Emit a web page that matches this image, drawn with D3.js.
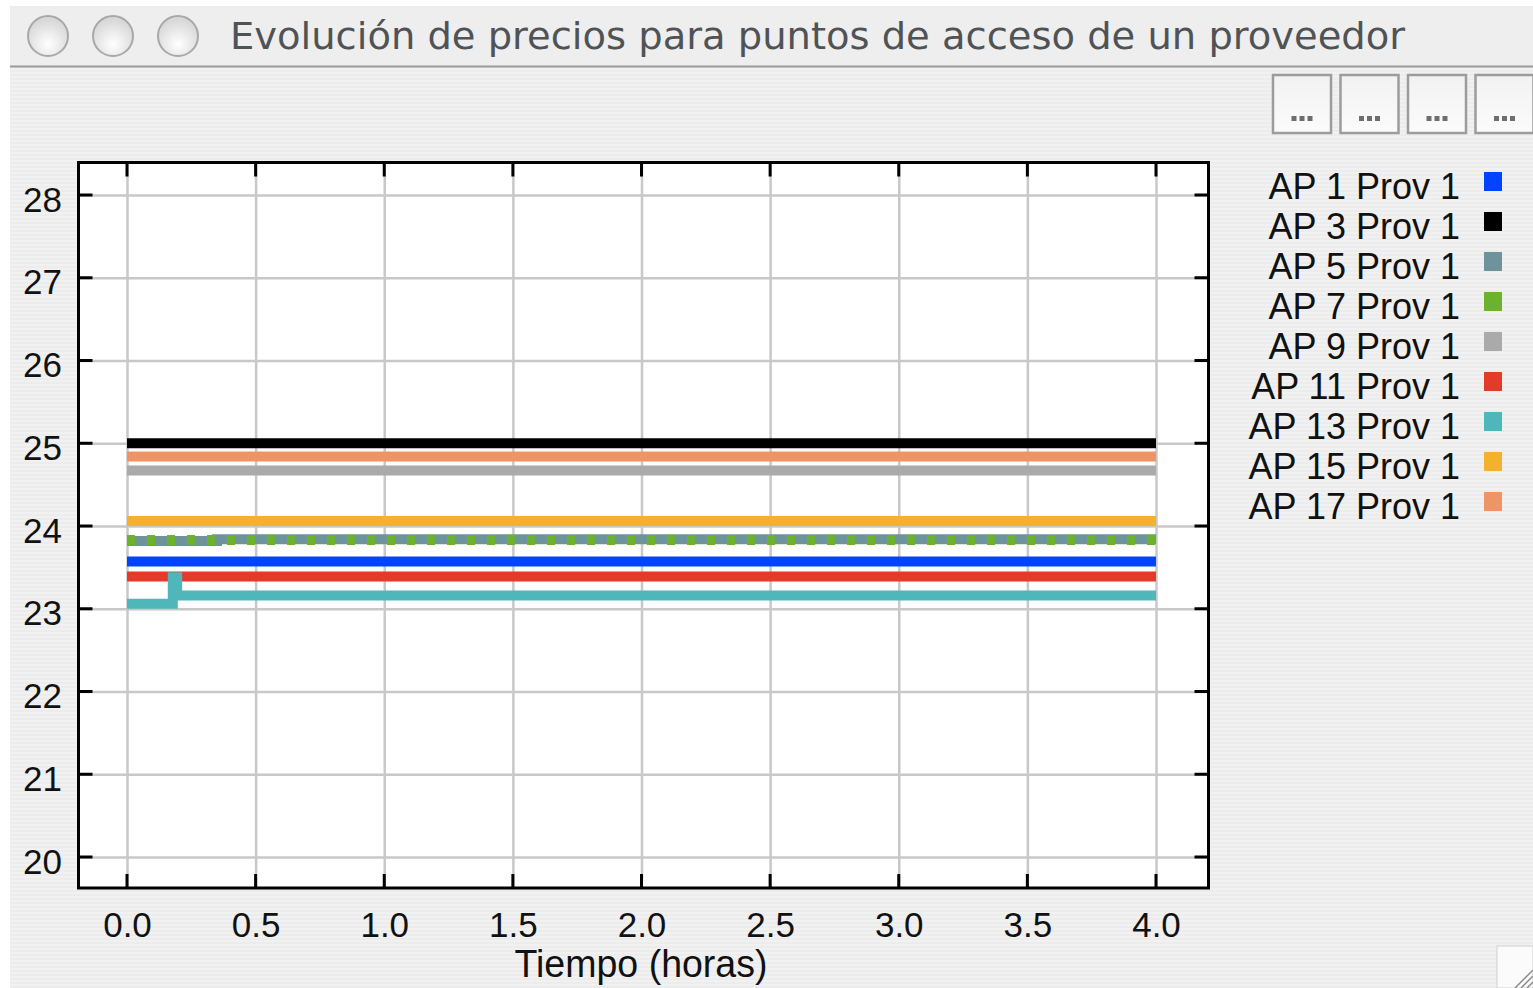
<!DOCTYPE html>
<html><head><meta charset="utf-8">
<script src="https://cdn.jsdelivr.net/npm/d3@7"></script>
<style>
html,body{margin:0;padding:0;background:#fff;}
svg{display:block;}
</style></head>
<body>
<svg id="chart" width="1533" height="988"></svg>
<script>
// ---- data ----
const title = "Evolución de precios para puntos de acceso de un proveedor";
const xLabel = "Tiempo (horas)";
const xTicks = [0, 0.5, 1, 1.5, 2, 2.5, 3, 3.5, 4];
const yTicks = [20, 21, 22, 23, 24, 25, 26, 27, 28];
const seriesNames = ["AP 1 Prov 1","AP 3 Prov 1","AP 5 Prov 1","AP 7 Prov 1","AP 9 Prov 1","AP 11 Prov 1","AP 13 Prov 1","AP 15 Prov 1","AP 17 Prov 1"];
const seriesColors = ["#0044ff","#000000","#6f939b","#6db22c","#aaaaaa","#e5392a","#4fb6b9","#f2b22c","#ef9466"];
const ap1  = [[0,23.57],[4,23.57]];
const ap3  = [[0,25.00],[4,25.00]];
const ap5  = [[0,23.82],[0.35,23.84],[4,23.84]];
const ap7  = [[0,23.83],[4,23.83]];
const ap9  = [[0,24.67],[4,24.67]];
const ap11 = [[0,23.39],[4,23.39]];
const ap13 = [[0,23.06],[0.178,23.38],[0.195,23.16],[4,23.16]];
const ap15 = [[0,24.06],[4,24.06]];
const ap17 = [[0,24.84],[4,24.84]];
const seriesValues = [ap1, ap3, ap5, ap7, ap9, ap11, ap13, ap15, ap17];

// ---- layout ----
const svg = d3.select("#chart");
const defs = svg.append("defs");
const stripe = defs.append("pattern").attr("id","stripes").attr("patternUnits","userSpaceOnUse")
  .attr("width",8).attr("height",4);
stripe.append("rect").attr("width",8).attr("height",4).attr("fill","#f1f1f1");
stripe.append("rect").attr("y",2).attr("width",8).attr("height",2).attr("fill","#ececec");

const rg = defs.append("radialGradient").attr("id","btn").attr("cx","50%").attr("cy","70%").attr("r","60%");
rg.append("stop").attr("offset","0%").attr("stop-color","#ffffff");
rg.append("stop").attr("offset","100%").attr("stop-color","#d8d8d8");
const lg = defs.append("linearGradient").attr("id","sq").attr("x1",0).attr("y1",0).attr("x2",0).attr("y2",1);
lg.append("stop").attr("offset","0%").attr("stop-color","#f2f2f2");
lg.append("stop").attr("offset","100%").attr("stop-color","#fbfbfb");

// window background
svg.append("rect").attr("x",10).attr("y",6).attr("width",1523).attr("height",982).attr("fill","url(#stripes)");
// title bar
svg.append("rect").attr("x",10).attr("y",6).attr("width",1523).attr("height",60).attr("fill","#eeeeee");
svg.append("line").attr("x1",10).attr("x2",1533).attr("y1",66.5).attr("y2",66.5).attr("stroke","#9a9a9a").attr("stroke-width",2);
[48,113,178].forEach(cx=>{
  svg.append("circle").attr("cx",cx).attr("cy",36).attr("r",20).attr("fill","url(#btn)").attr("stroke","#a8a8a8").attr("stroke-width",2);
});
svg.append("text").attr("x",230).attr("y",49).attr("font-family","DejaVu Sans").attr("font-size",38)
  .attr("fill","#505356").attr("textLength",1175).attr("lengthAdjust","spacingAndGlyphs").text(title);

// toolbar buttons
[1273,1340.5,1408,1475.5].forEach(bx=>{
  const g = svg.append("g");
  g.append("rect").attr("x",bx).attr("y",75).attr("width",58).attr("height",58)
    .attr("fill","url(#sq)").attr("stroke","#9c9c9c").attr("stroke-width",2.5);
  [-8,0,8].forEach(dx=>{
    g.append("rect").attr("x",bx+29+dx-2.5).attr("y",116).attr("width",5).attr("height",5).attr("fill","#6e6e6e");
  });
});

// resize grip
const grip = svg.append("g");
grip.append("rect").attr("x",1497).attr("y",946).attr("width",36).attr("height",42).attr("fill","#fbfbfb").attr("stroke","#d0d0d0");
[0,6,12].forEach(o=>{
  grip.append("line").attr("x1",1515+o).attr("y1",988).attr("x2",1533).attr("y2",970+o).attr("stroke","#888").attr("stroke-width",1.5);
});

// plot area
const pl = 78.5, pr = 1208.5, pt = 162.5, pb = 888;
const x = d3.scaleLinear().domain([0,4]).range([127,1156]);
const y = d3.scaleLinear().domain([20,28]).range([857,195]);

svg.append("rect").attr("x",pl).attr("y",pt).attr("width",pr-pl).attr("height",pb-pt).attr("fill","#ffffff");

// gridlines via axes
const gx = svg.append("g").attr("transform",`translate(0,${pb})`)
  .call(d3.axisBottom(x).tickValues(xTicks).tickSize(-(pb-pt)).tickFormat(""));
gx.select(".domain").remove();
gx.selectAll("line").attr("stroke","#c8c8c8").attr("stroke-width",2.5);
const gy = svg.append("g").attr("transform",`translate(${pl},0)`)
  .call(d3.axisLeft(y).tickValues(yTicks).tickSize(-(pr-pl)).tickFormat(""));
gy.select(".domain").remove();
gy.selectAll("line").attr("stroke","#c8c8c8").attr("stroke-width",2.5);

// series lines
const line = d3.line().x(d=>x(d[0])).y(d=>y(d[1])).curve(d3.curveStepAfter);
seriesValues.forEach((vals,i)=>{
  svg.append("path").datum(vals).attr("d",line).attr("fill","none")
    .attr("stroke",seriesColors[i]).attr("stroke-width",10)
    .attr("stroke-dasharray", i===3 ? "8,12" : null);
});

// tick marks (inside, all four sides)
const tk = 14;
const ticks = svg.append("g").attr("stroke","#000").attr("stroke-width",3);
xTicks.forEach(v=>{
  ticks.append("line").attr("x1",x(v)).attr("x2",x(v)).attr("y1",pb).attr("y2",pb-tk);
  ticks.append("line").attr("x1",x(v)).attr("x2",x(v)).attr("y1",pt).attr("y2",pt+tk);
});
yTicks.forEach(v=>{
  ticks.append("line").attr("x1",pl).attr("x2",pl+tk).attr("y1",y(v)).attr("y2",y(v));
  ticks.append("line").attr("x1",pr).attr("x2",pr-tk).attr("y1",y(v)).attr("y2",y(v));
});
// frame
svg.append("rect").attr("x",pl).attr("y",pt).attr("width",pr-pl).attr("height",pb-pt)
  .attr("fill","none").attr("stroke","#000").attr("stroke-width",3);

// axis labels via axes
const ax = svg.append("g").attr("transform","translate(0,937)")
  .call(d3.axisBottom(x).tickValues(xTicks).tickSize(0).tickPadding(0).tickFormat(d3.format(".1f")));
ax.select(".domain").remove();
ax.selectAll("text").attr("dy",0).attr("y",0).attr("font-family","Liberation Sans, Arial, sans-serif")
  .attr("font-size",35).attr("fill","#111");
const ay = svg.append("g").attr("transform","translate(62,0)")
  .call(d3.axisLeft(y).tickValues(yTicks).tickSize(0).tickPadding(0).tickFormat(d3.format("d")));
ay.select(".domain").remove();
ay.selectAll("text").attr("dy",16).attr("x",0).attr("font-family","Liberation Sans, Arial, sans-serif")
  .attr("font-size",35).attr("fill","#111");

svg.append("text").attr("x",641).attr("y",977).attr("text-anchor","middle")
  .attr("font-family","Liberation Sans, Arial, sans-serif").attr("font-size",38).attr("fill","#111")
  .attr("textLength",253).attr("lengthAdjust","spacingAndGlyphs").text(xLabel);

// legend
const leg = svg.append("g");
seriesNames.forEach((n,i)=>{
  leg.append("text").attr("x",1460).attr("y",199+40*i).attr("text-anchor","end")
    .attr("font-family","Liberation Sans, Arial, sans-serif").attr("font-size",36).attr("fill","#111").text(n);
  leg.append("rect").attr("x",1484).attr("y",172+40*i).attr("width",18).attr("height",19).attr("fill",seriesColors[i]);
});
</script>
</body></html>
